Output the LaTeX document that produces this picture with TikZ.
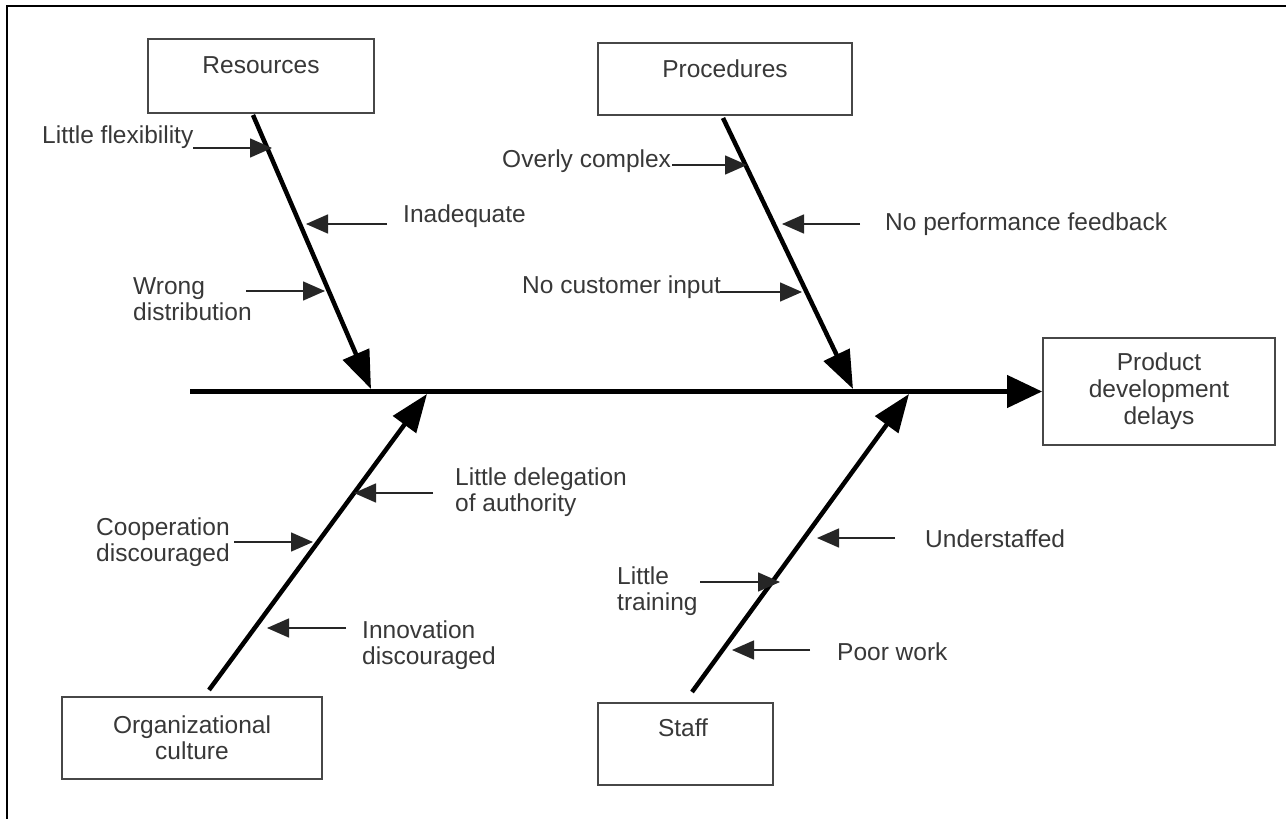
\documentclass[tikz,border=0pt]{standalone}
\usepackage{fontspec}
\setmainfont{Liberation Sans}
\usetikzlibrary{arrows.meta,calc}
\begin{document}
\begin{tikzpicture}[x=1pt,y=-1pt,
  txt/.style={inner sep=0pt, text=black!78, font=\fontsize{24.5}{26}\selectfont},
  mtxt/.style={txt, align=left, anchor=north west},
  box/.style={draw=black!72, line width=1.8pt, rectangle, inner sep=0pt},
  bone/.style={line width=4.5pt, -{Triangle[length=38pt,width=28pt]}},
  spine/.style={line width=4.5pt, -{Triangle[length=35pt,width=32pt]}},
  cause/.style={line width=1.5pt, draw=black!85, -{Triangle[length=22pt,width=19pt]}}]
\useasboundingbox (0,0) rectangle (1286,819);
\fill[white] (0,0) rectangle (1286,819);
\draw[line width=2pt] (7,819) -- (7,6) -- (1286,6);

% boxes
\node[box, minimum width=226pt, minimum height=74pt] (res) at (261,76) {};
\node[txt, anchor=base] (resT) at (261,73) {Resources};
\node[box, minimum width=254pt, minimum height=72pt] (proc) at (725,79) {};
\node[txt, anchor=base] (procT) at (725,77) {Procedures};
\node[box, txt, box, align=center, minimum width=232pt, minimum height=107pt,
      font=\fontsize{24.5}{27}\selectfont] (prod) at (1159,391.5) {Product\\development\\delays};
\node[box, txt, box, align=center, minimum width=260pt, minimum height=82pt] (org) at (192,738) {Organizational\\culture};
\node[box, minimum width=175pt, minimum height=82pt] (staff) at (685.5,744) {};
\node[txt, anchor=base] (staffT) at (683,736) {Staff};

% spine
\coordinate (sp0) at (190,391.5);
\draw[spine] (sp0) -- (prod.west);

% branches
\coordinate (resS) at (253,115);  \coordinate (resE) at (371,389);
\coordinate (procS) at (723,118); \coordinate (procE) at (853,389);
\coordinate (orgS) at (209,690);  \coordinate (orgE) at (427,394);
\coordinate (stS) at (692,692);   \coordinate (stE) at (909,394);
\draw[bone] (resS) -- (resE);
\draw[bone] (procS) -- (procE);
\draw[bone] (orgS) -- (orgE);
\draw[bone] (stS) -- (stE);

% causes: Resources
\node[txt, anchor=base west] (lf) at (42,143) {Little flexibility};
\coordinate (lfA) at (193,148); \coordinate (lfB) at (272,148);
\draw[cause] (lfA) -- (lfB);
\node[txt, anchor=base west] (inad) at (403,222) {Inadequate};
\coordinate (inA) at (387,224); \coordinate (inB) at (306,224);
\draw[cause] (inA) -- (inB);
\node[mtxt] (wd) at (133,277) {Wrong\\distribution};
\coordinate (wdA) at (246,291); \coordinate (wdB) at (325,291);
\draw[cause] (wdA) -- (wdB);

% causes: Procedures
\node[txt, anchor=base west] (oc) at (502,167) {Overly complex};
\coordinate (ocA) at (672,165); \coordinate (ocB) at (747,165);
\draw[cause] (ocA) -- (ocB);
\node[txt, anchor=base west] (npf) at (885,230) {No performance feedback};
\coordinate (npA) at (860,224); \coordinate (npB) at (782,224);
\draw[cause] (npA) -- (npB);
\node[txt, anchor=base west] (nci) at (522,293) {No customer input};
\coordinate (ncA) at (720,292); \coordinate (ncB) at (802,292);
\draw[cause] (ncA) -- (ncB);

% causes: Organizational culture
\node[mtxt] (ld) at (455,468) {Little delegation\\of authority};
\coordinate (ldA) at (433,493); \coordinate (ldB) at (354,493);
\draw[cause] (ldA) -- (ldB);
\node[mtxt] (cd) at (96,518) {Cooperation\\discouraged};
\coordinate (cdA) at (234,542); \coordinate (cdB) at (313,542);
\draw[cause] (cdA) -- (cdB);
\node[mtxt] (id) at (362,621) {Innovation\\discouraged};
\coordinate (idA) at (346,628); \coordinate (idB) at (267,628);
\draw[cause] (idA) -- (idB);

% causes: Staff
\node[txt, anchor=base west] (us) at (925,547) {Understaffed};
\coordinate (usA) at (895,538); \coordinate (usB) at (817,538);
\draw[cause] (usA) -- (usB);
\node[mtxt] (lt) at (617,567) {Little\\training};
\coordinate (ltA) at (700,582); \coordinate (ltB) at (780,582);
\draw[cause] (ltA) -- (ltB);
\node[txt, anchor=base west] (pw) at (837,660) {Poor work};
\coordinate (pwA) at (810,650); \coordinate (pwB) at (732,650);
\draw[cause] (pwA) -- (pwB);
\end{tikzpicture}
\end{document}
